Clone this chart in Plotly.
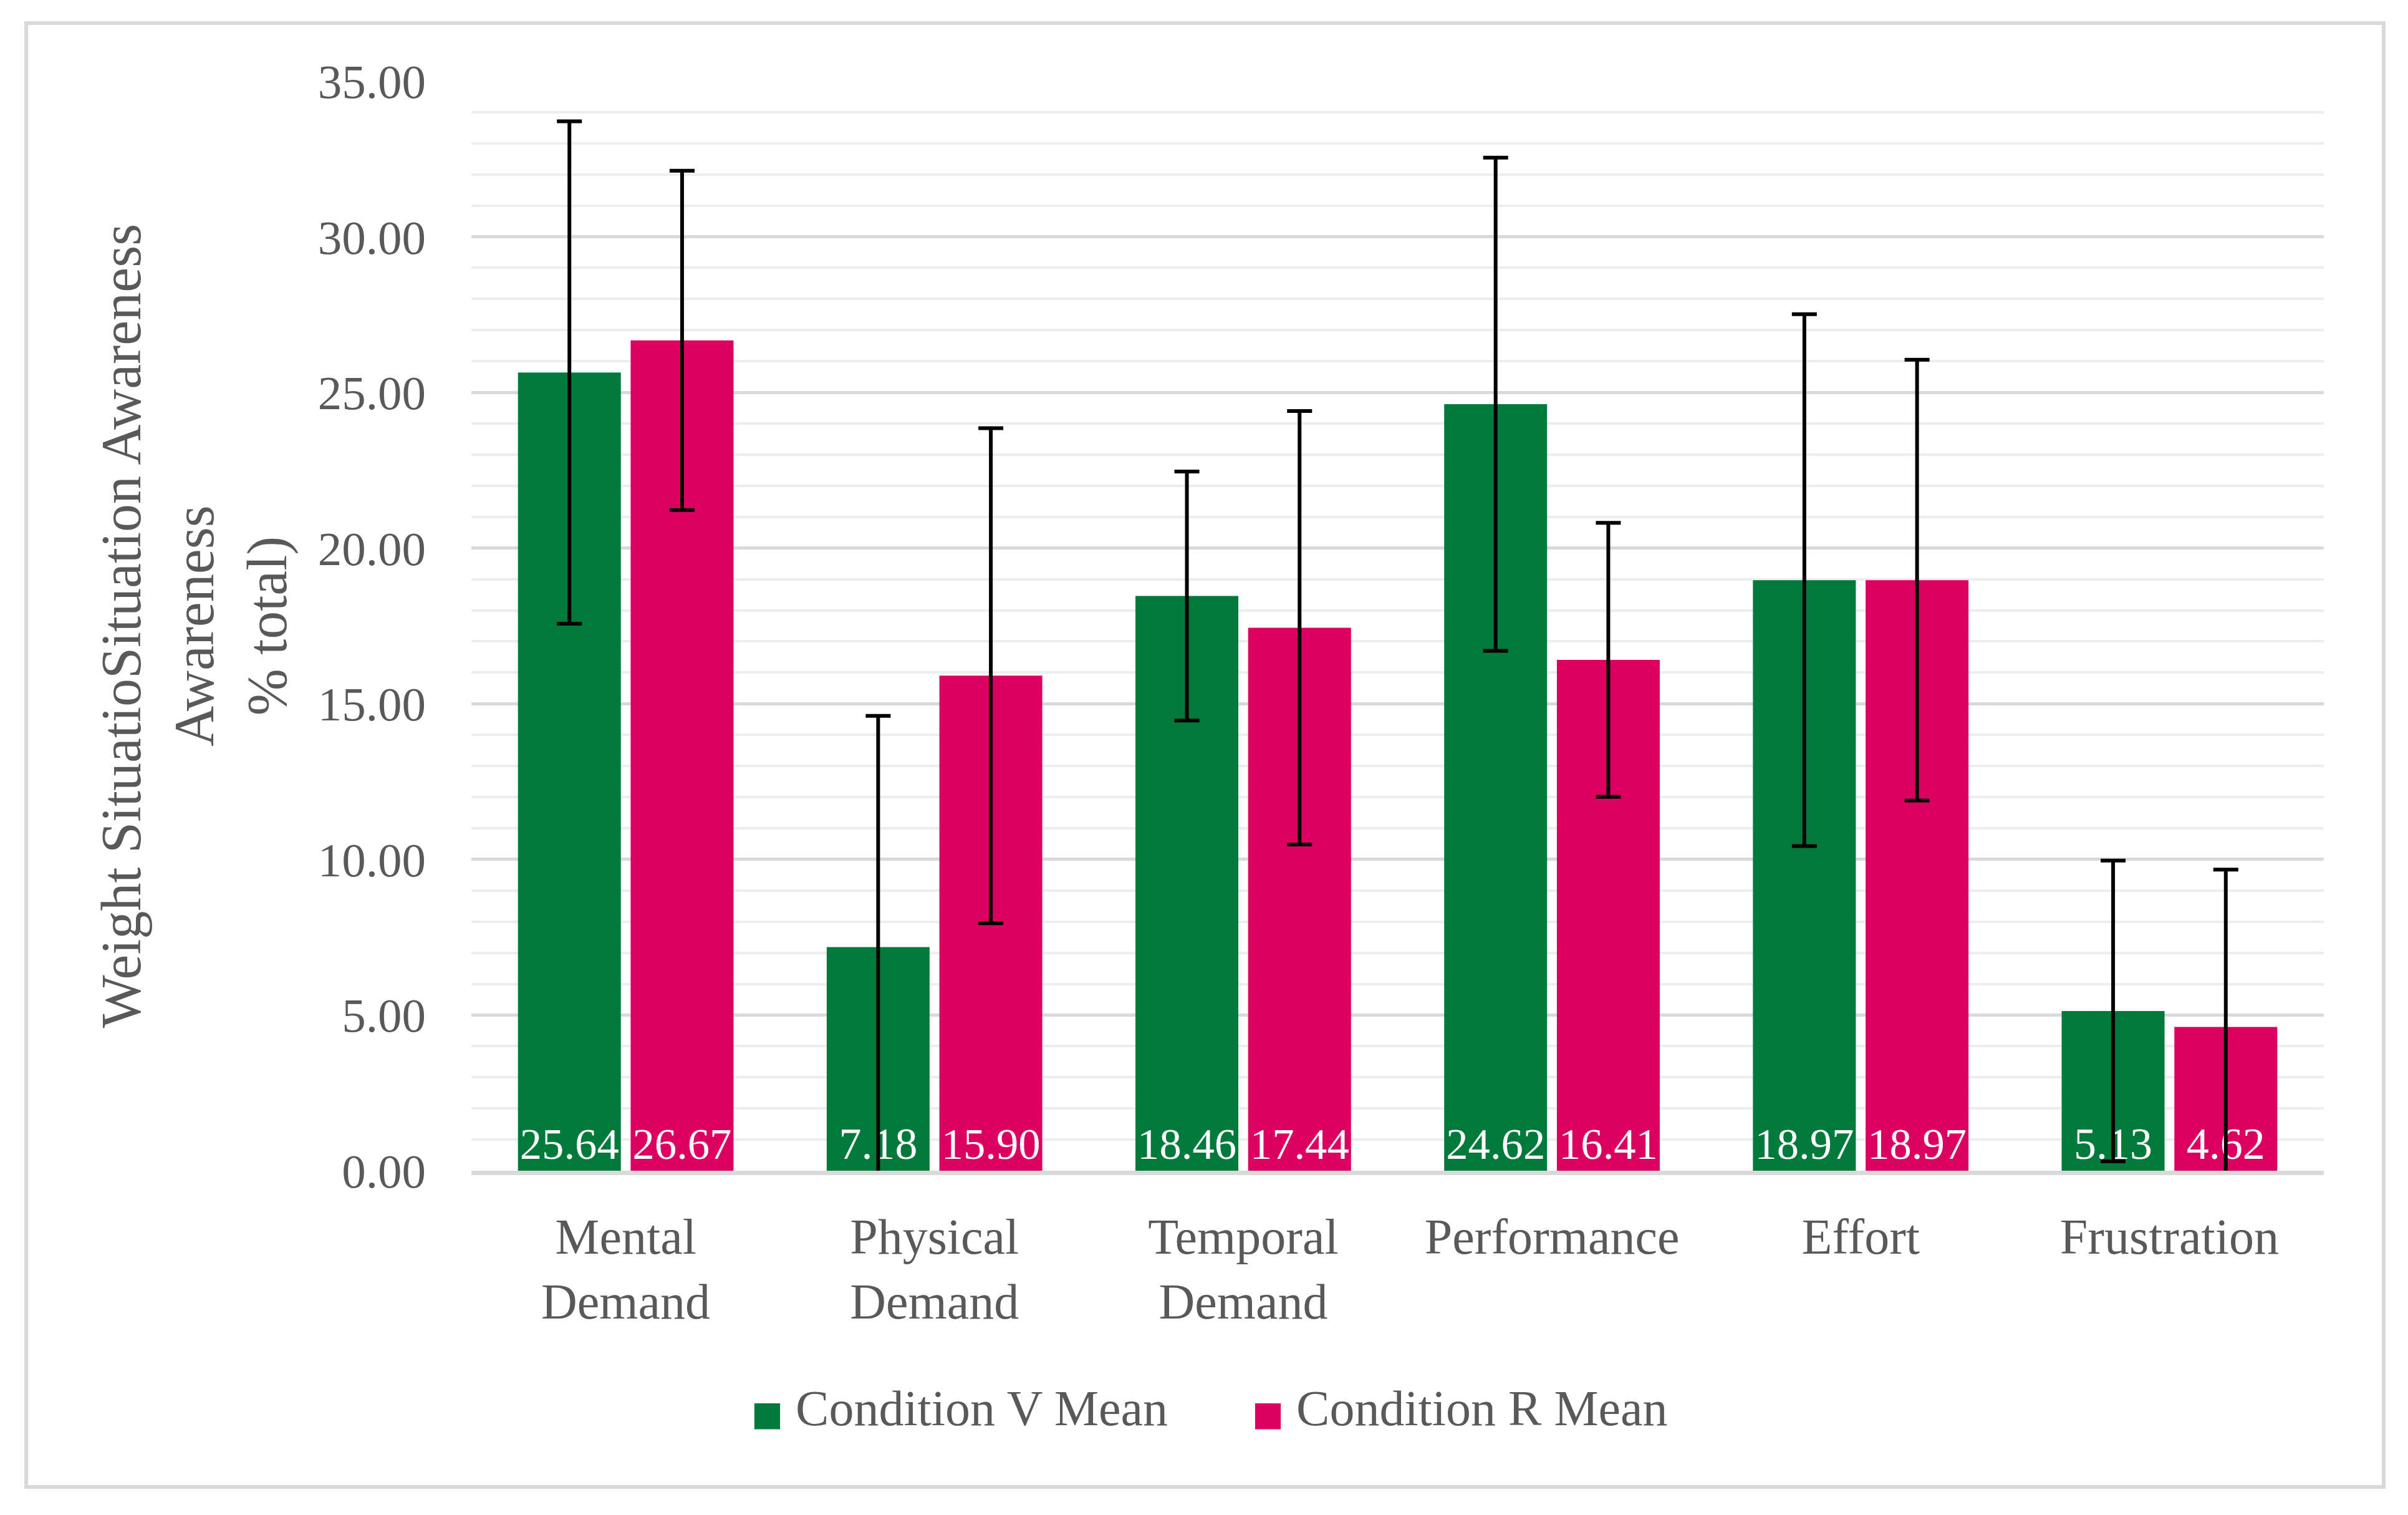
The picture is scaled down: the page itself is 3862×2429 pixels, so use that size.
import plotly.graph_objects as go

categories = ["Mental<br>Demand", "Physical<br>Demand", "Temporal<br>Demand", "Performance", "Effort", "Frustration"]
v_mean = [25.64, 7.18, 18.46, 24.62, 18.97, 5.13]
r_mean = [26.67, 15.90, 17.44, 16.41, 18.97, 4.62]
v_err = [8.07, 7.43, 4.00, 7.92, 8.54, 4.83]
r_err = [5.45, 7.95, 6.96, 4.40, 7.08, 5.05]
series_names = ["Condition V Mean", "Condition R Mean"]
y_title = "Weight SituatioSituation Awareness<br>Awareness<br>% total)"

OFF = 8  # default page body margin
W, H = 3862 - 2 * OFF, 2429 - 2 * OFF
# plot area in page pixels
PL, PR, PT, PB = 756, 3727, 130, 1877
ML, MT = PL - OFF, PT - OFF
MR, MB = W - (PR - OFF), H - (PB - OFF)
PW, PH = PR - PL, PB - PT

FONT = "Liberation Serif"
GREEN = "#007A3B"
PINK = "#DC0060"
GRAY_TXT = "#595959"

fig = go.Figure()
for name, vals, errs, col in [(series_names[0], v_mean, v_err, GREEN),
                              (series_names[1], r_mean, r_err, PINK)]:
    fig.add_trace(go.Bar(
        name=name, x=categories, y=vals, marker=dict(color=col, line=dict(width=0)),
        error_y=dict(type="data", array=errs, symmetric=True, color="black", thickness=6, width=20),
        texttemplate="%{y:.2f}", textposition="inside", insidetextanchor="start", textangle=0,
        textfont=dict(family=FONT, size=72, color="white"), showlegend=False,
    ))

def px_x(px):
    return (px - PL) / PW

def px_y(py):
    return 1 - (py - PT) / PH

legend_items = [(series_names[0], GREEN, 1203), (series_names[1], PINK, 2006)]
annotations = []
for name, col, lx in legend_items:
    annotations.append(dict(
        xref="paper", yref="paper", x=px_x(lx), y=px_y(2258), xanchor="left", yanchor="middle",
        showarrow=False,
        text=f"<span style='color:{col};font-size:54px;font-family:DejaVu Sans'>■</span> {name}",
        font=dict(family=FONT, size=80, color=GRAY_TXT)))

fig.update_layout(
    width=W, height=H,
    margin=dict(l=ML, r=MR, t=MT, b=MB),
    paper_bgcolor="white", plot_bgcolor="white",
    barmode="group", bargap=0.27, bargroupgap=0.087,
    font=dict(family=FONT, color=GRAY_TXT, size=80),
    showlegend=False,
    annotations=annotations,
    shapes=[dict(type="rect", xref="paper", yref="paper",
                 x0=px_x(42), x1=px_x(3823), y0=px_y(2384), y1=px_y(37),
                 line=dict(color="#D9D9D9", width=6), fillcolor="rgba(0,0,0,0)", layer="below")],
)
fig.update_yaxes(range=[0, 35], dtick=5, tickformat=".2f", showgrid=True, gridcolor="#D9D9D9", gridwidth=5,
                 zeroline=False, showline=False, ticks="",
                 tickfont=dict(size=77, color=GRAY_TXT), ticklabelstandoff=72,
                 minor=dict(dtick=1, showgrid=True, gridcolor="#EDEDED", gridwidth=3.5),
                 title=dict(text=y_title, font=dict(size=90, color=GRAY_TXT), standoff=20))
fig.update_xaxes(showline=True, linecolor="#D9D9D9", linewidth=7, ticks="", showgrid=False,
                 tickfont=dict(size=80, color=GRAY_TXT), ticklabelstandoff=30)

fig.write_html("out.html")
